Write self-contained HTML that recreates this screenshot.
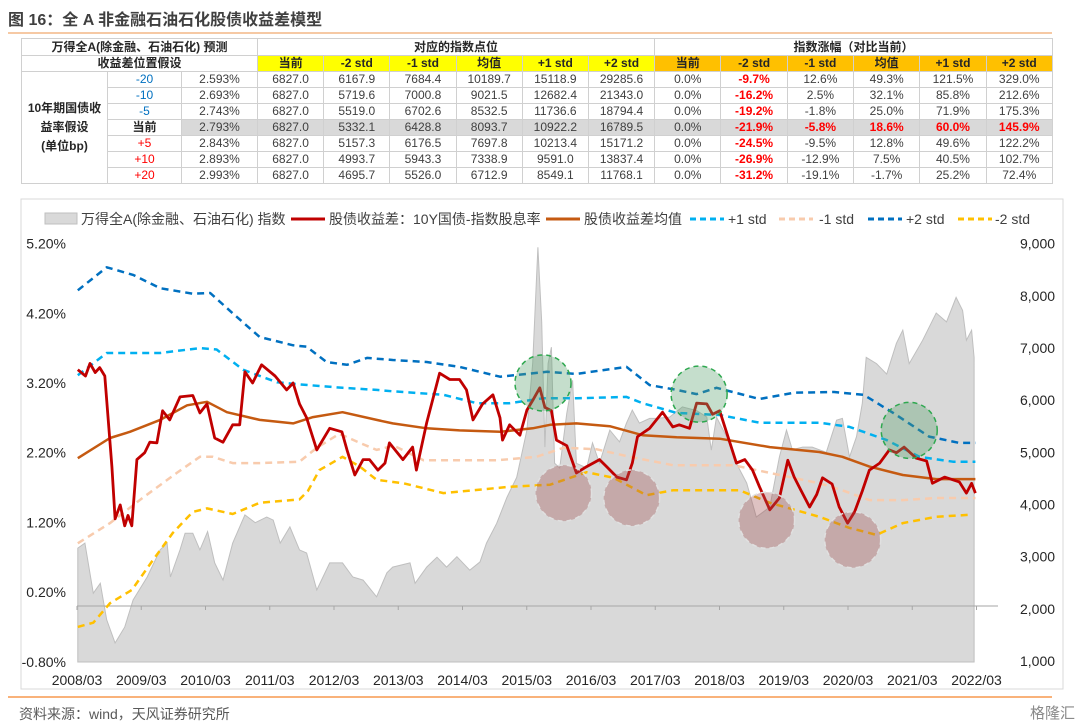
<!DOCTYPE html>
<html><head><meta charset="utf-8">
<style>
body{margin:0;background:#fff;width:1080px;height:727px;overflow:hidden;font-family:"Liberation Sans","Noto Sans CJK SC",sans-serif;position:relative}
#title{position:absolute;left:8px;top:6px;font-size:16px;font-weight:bold;color:#404040}
#tline{position:absolute;left:8px;top:32px;width:1044px;height:2px;background:#f6c9a4}
table{position:absolute;left:21px;top:38px;border-collapse:collapse;font-size:12px;color:#404040;table-layout:fixed}
td{border:1px solid #d0d0d0;text-align:center;height:15px;padding:0;line-height:15px;white-space:nowrap}
.h{font-weight:bold;color:#262626}
.y{background:#ffff00;font-weight:bold;color:#262626}
.o{background:#ffc000;font-weight:bold;color:#262626}
.g{background:#d9d9d9}
.r{color:#ff0000;font-weight:bold}
.b{color:#0070c0}
.rn{color:#ff0000}
#src{position:absolute;left:19px;top:704px;font-size:14px;color:#595959}
#bline{position:absolute;left:8px;top:696px;width:1044px;height:2px;background:#f9b27a}
#logo{position:absolute;left:1030px;top:702px;font-size:15px;color:#8a8a8a}
</style></head><body>
<div id="title">图 16：全 A 非金融石油石化股债收益差模型</div>
<div id="tline"></div>
<table>
<colgroup><col style="width:86px"><col style="width:74px"><col style="width:76px"><col span="6" style="width:66.2px"><col span="6" style="width:66.3px"></colgroup>
<tr style="height:17px"><td colspan="3" class="h">万得全A(除金融、石油石化) 预测</td><td colspan="6" class="h">对应的指数点位</td><td colspan="6" class="h">指数涨幅（对比当前）</td></tr>
<tr style="height:16px"><td colspan="3" class="h">收益差位置假设</td><td class="y">当前</td><td class="y">-2 std</td><td class="y">-1 std</td><td class="y">均值</td><td class="y">+1 std</td><td class="y">+2 std</td><td class="o">当前</td><td class="o">-2 std</td><td class="o">-1 std</td><td class="o">均值</td><td class="o">+1 std</td><td class="o">+2 std</td></tr>
<tr><td rowspan="7" class="h" style="line-height:19px;white-space:normal">10年期国债收<br>益率假设<br>(单位bp)</td><td class="b">-20</td><td>2.593%</td><td>6827.0</td><td>6167.9</td><td>7684.4</td><td>10189.7</td><td>15118.9</td><td>29285.6</td><td>0.0%</td><td class="r">-9.7%</td><td>12.6%</td><td>49.3%</td><td>121.5%</td><td>329.0%</td></tr>
<tr><td class="b">-10</td><td>2.693%</td><td>6827.0</td><td>5719.6</td><td>7000.8</td><td>9021.5</td><td>12682.4</td><td>21343.0</td><td>0.0%</td><td class="r">-16.2%</td><td>2.5%</td><td>32.1%</td><td>85.8%</td><td>212.6%</td></tr>
<tr><td class="b">-5</td><td>2.743%</td><td>6827.0</td><td>5519.0</td><td>6702.6</td><td>8532.5</td><td>11736.6</td><td>18794.4</td><td>0.0%</td><td class="r">-19.2%</td><td>-1.8%</td><td>25.0%</td><td>71.9%</td><td>175.3%</td></tr>
<tr><td class="h">当前</td><td class="g">2.793%</td><td class="g">6827.0</td><td class="g">5332.1</td><td class="g">6428.8</td><td class="g">8093.7</td><td class="g">10922.2</td><td class="g">16789.5</td><td class="g">0.0%</td><td class="g r">-21.9%</td><td class="g r">-5.8%</td><td class="g r">18.6%</td><td class="g r">60.0%</td><td class="g r">145.9%</td></tr>
<tr><td class="rn">+5</td><td>2.843%</td><td>6827.0</td><td>5157.3</td><td>6176.5</td><td>7697.8</td><td>10213.4</td><td>15171.2</td><td>0.0%</td><td class="r">-24.5%</td><td>-9.5%</td><td>12.8%</td><td>49.6%</td><td>122.2%</td></tr>
<tr><td class="rn">+10</td><td>2.893%</td><td>6827.0</td><td>4993.7</td><td>5943.3</td><td>7338.9</td><td>9591.0</td><td>13837.4</td><td>0.0%</td><td class="r">-26.9%</td><td>-12.9%</td><td>7.5%</td><td>40.5%</td><td>102.7%</td></tr>
<tr><td class="rn">+20</td><td>2.993%</td><td>6827.0</td><td>4695.7</td><td>5526.0</td><td>6712.9</td><td>8549.1</td><td>11768.1</td><td>0.0%</td><td class="r">-31.2%</td><td>-19.1%</td><td>-1.7%</td><td>25.2%</td><td>72.4%</td></tr>
</table>

<svg id="chart" width="1080" height="727" style="position:absolute;left:0;top:0">
<rect x="21" y="199" width="1042" height="490" fill="none" stroke="#d9d9d9"/>
<g id="plot"></g>
<g id="legend" font-size="14" fill="#404040"></g>
</svg>
<div id="bline"></div>
<div id="src">资料来源：wind，天风证券研究所</div>
<div id="logo">格隆汇</div>

<script>
const xTicks=["2008/03","2009/03","2010/03","2011/03","2012/03","2013/03","2014/03","2015/03","2016/03","2017/03","2018/03","2019/03","2020/03","2021/03","2022/03"];
const leftTicks=[-0.8,0.2,1.2,2.2,3.2,4.2,5.2];
const rightTicks=[1000,2000,3000,4000,5000,6000,7000,8000,9000];
const idxDates=[2008.18,2008.29,2008.42,2008.53,2008.63,2008.76,2008.91,2009.04,2009.26,2009.46,2009.57,2009.62,2009.77,2009.85,2009.97,2010.08,2010.2,2010.31,2010.44,2010.59,2010.78,2010.94,2011.12,2011.22,2011.33,2011.48,2011.63,2011.74,2011.9,2012.1,2012.3,2012.46,2012.62,2012.83,2012.99,2013.08,2013.35,2013.43,2013.61,2013.77,2013.92,2014.08,2014.28,2014.44,2014.54,2014.7,2014.86,2015.01,2015.17,2015.26,2015.34,2015.4,2015.45,2015.5,2015.55,2015.6,2015.68,2015.79,2015.88,2015.94,2016.1,2016.19,2016.3,2016.46,2016.61,2016.72,2016.81,2016.92,2017.08,2017.19,2017.39,2017.59,2017.81,2017.97,2018.04,2018.12,2018.28,2018.43,2018.59,2018.74,2018.95,2019.1,2019.21,2019.3,2019.46,2019.61,2019.83,2019.99,2020.08,2020.19,2020.3,2020.39,2020.45,2020.61,2020.77,2020.92,2021.02,2021.12,2021.33,2021.54,2021.7,2021.85,2021.95,2022.01,2022.09,2022.13];
const idxVals=[3165,3260,2300,2490,1790,1345,1650,2170,2610,3130,3260,2610,3130,3450,3450,3130,3480,2880,2550,3260,3800,3650,3760,3700,3260,3570,3130,3070,2360,2880,2880,2610,2550,2230,2690,2800,2880,2490,2800,2990,2800,3000,2740,2900,3260,3640,4140,4520,5425,6710,8930,7500,5100,6700,7015,4790,4700,5750,6380,4790,4700,5180,4790,5425,5200,5560,5810,5560,5650,5650,5675,5870,5800,5675,5040,5675,5290,4790,4410,3760,3950,4910,5425,5050,5100,5100,5000,5615,5650,4910,5300,5940,6820,6700,6500,7090,7340,6700,7150,7670,7500,7970,7720,7150,7340,6820];
const spreadDates=[2008.18,2008.3,2008.37,2008.45,2008.52,2008.6,2008.71,2008.76,2008.84,2008.91,2008.96,2009.02,2009.1,2009.22,2009.3,2009.41,2009.5,2009.61,2009.77,2009.97,2010.08,2010.19,2010.31,2010.44,2010.59,2010.7,2010.78,2010.9,2011.04,2011.25,2011.43,2011.53,2011.63,2011.74,2011.9,2012.1,2012.29,2012.37,2012.49,2012.62,2012.72,2012.85,2012.96,2013.03,2013.24,2013.39,2013.45,2013.61,2013.81,2013.97,2014.12,2014.23,2014.33,2014.48,2014.64,2014.75,2014.79,2014.9,2015.06,2015.17,2015.26,2015.37,2015.45,2015.55,2015.63,2015.79,2015.94,2016.1,2016.3,2016.41,2016.57,2016.72,2016.81,2016.89,2017.08,2017.28,2017.44,2017.54,2017.7,2017.81,2017.97,2018.06,2018.17,2018.28,2018.43,2018.56,2018.68,2018.79,2018.95,2019.1,2019.23,2019.33,2019.44,2019.57,2019.68,2019.77,2019.92,2020.03,2020.16,2020.27,2020.39,2020.5,2020.66,2020.81,2020.92,2021.04,2021.23,2021.39,2021.48,2021.67,2021.9,2022.01,2022.09,2022.15];
const spreadVals=[3.39,3.3,3.48,3.35,3.42,3.3,2.0,1.25,1.45,1.15,1.3,1.15,2.1,2.2,2.35,2.34,2.8,2.67,3.0,3.02,2.77,2.9,2.41,2.35,2.6,2.6,3.36,3.2,3.46,3.3,3.1,3.2,2.9,2.7,2.24,2.55,2.5,2.24,1.88,2.1,2.1,1.95,2.05,2.34,2.1,2.28,1.95,2.63,3.34,3.25,3.25,3.1,2.67,2.9,3.03,2.7,2.38,2.6,2.45,2.81,2.95,3.13,2.85,2.8,2.38,2.3,1.91,2.0,2.1,2.0,1.85,1.81,2.05,2.43,2.55,2.78,2.57,2.6,2.55,2.91,2.9,2.75,2.8,2.48,2.05,2.1,1.95,1.71,1.38,1.55,2.09,1.85,1.65,1.42,1.6,1.84,1.75,1.42,1.19,1.35,1.65,1.95,2.05,2.24,2.2,2.28,2.12,2.08,1.76,1.85,1.78,1.62,1.76,1.62];
const meanDates=[2008.18,2008.68,2008.99,2009.46,2009.88,2010.19,2010.5,2011.01,2011.53,2011.84,2012.3,2012.83,2013.08,2013.61,2014.12,2014.75,2015.26,2015.53,2015.94,2016.46,2016.97,2017.5,2018.17,2018.95,2019.72,2020.08,2020.5,2021.02,2021.54,2022.15];
const meanVals=[2.12,2.41,2.5,2.67,2.88,2.93,2.78,2.67,2.62,2.71,2.78,2.67,2.62,2.55,2.52,2.5,2.55,2.6,2.62,2.58,2.45,2.42,2.4,2.28,2.21,2.14,2.0,1.88,1.82,1.82];
const p1Dates=[2008.18,2008.63,2009.46,2010.08,2010.34,2010.75,2011.28,2011.63,2012.3,2012.83,2013.08,2013.87,2014.39,2014.9,2015.42,2015.94,2016.72,2016.97,2017.5,2018.17,2018.79,2019.72,2020.19,2020.77,2021.28,2021.8,2022.15];
const p1Vals=[3.31,3.63,3.63,3.7,3.68,3.39,3.21,3.18,3.13,3.1,3.08,3.03,2.91,2.91,2.98,2.98,3.0,2.91,2.77,2.74,2.63,2.63,2.57,2.38,2.14,2.07,2.07];
const p2Dates=[2008.18,2008.63,2009.04,2009.46,2009.97,2010.24,2010.59,2011.01,2011.53,2011.74,2012.05,2012.37,2012.68,2013.08,2013.61,2014.12,2014.75,2015.48,2015.94,2016.72,2017.08,2017.5,2017.81,2018.12,2018.79,2019.33,2019.95,2020.41,2020.87,2021.43,2021.9,2022.15];
const p2Vals=[4.53,4.86,4.75,4.56,4.48,4.49,4.2,3.86,3.74,3.72,3.5,3.46,3.56,3.53,3.5,3.43,3.29,3.36,3.33,3.43,3.17,3.1,3.04,3.13,2.97,3.06,3.07,3.03,2.77,2.43,2.34,2.34];
const m1Dates=[2008.18,2008.68,2009.2,2009.72,2010.08,2010.28,2010.59,2011.01,2011.63,2011.9,2012.25,2012.57,2012.83,2013.1,2013.56,2014.7,2015.32,2015.74,2016.25,2016.77,2017.28,2017.44,2018.38,2018.95,2019.72,2020.08,2020.5,2021.02,2021.54,2022.15];
const m1Vals=[0.9,1.19,1.56,1.91,2.14,2.14,2.05,2.05,2.07,2.27,2.47,2.34,2.24,2.3,2.09,2.09,2.14,2.27,2.25,2.14,2.05,2.02,2.02,1.91,1.76,1.66,1.52,1.52,1.55,1.55];
const m2Dates=[2008.18,2008.42,2008.68,2009.02,2009.35,2009.66,2009.97,2010.19,2010.59,2011.01,2011.63,2011.76,2011.94,2012.3,2012.57,2012.83,2013.25,2013.87,2014.9,2015.53,2016.1,2016.52,2017.03,2017.44,2017.96,2018.48,2018.95,2019.72,2020.19,2020.61,2021.02,2021.54,2022.09];
const m2Vals=[-0.3,-0.24,0.04,0.23,0.66,1.05,1.35,1.4,1.32,1.48,1.53,1.65,1.95,2.14,2.0,1.81,1.76,1.62,1.71,1.74,1.92,1.84,1.59,1.66,1.66,1.66,1.48,1.28,1.12,1.02,1.19,1.28,1.31];
const greenCircles=[[2015.42,3.2],[2017.85,3.04],[2021.12,2.52]];
const redCircles=[[2015.74,1.62],[2016.8,1.55],[2018.9,1.23],[2020.24,0.95]];

const X=t=>77+(t-2008.167)*64.25;
const YL=v=>606-v*69.7;
const YR=v=>661-(v-1000)*0.05217;
const NS='http://www.w3.org/2000/svg';
const plot=document.getElementById('plot');
function mk(tag,attrs,parent){const e=document.createElementNS(NS,tag);for(const k in attrs)e.setAttribute(k,attrs[k]);(parent||plot).appendChild(e);return e;}
function pathFrom(ds,vs,yf){return ds.map((d,i)=>(i?'L':'M')+X(d).toFixed(1)+','+yf(vs[i]).toFixed(1)).join(' ');}

// index area
let ad=pathFrom(idxDates,idxVals,YR);
ad+=' L'+X(idxDates[idxDates.length-1]).toFixed(1)+',662 L'+X(idxDates[0]).toFixed(1)+',662 Z';
const area=mk('path',{d:ad,fill:'#d9d9d9',stroke:'#bfbfbf','stroke-width':1});


// zero axis
const ax=mk('line',{x1:77,x2:998,y1:YL(0),y2:YL(0),stroke:'#a6a6a6','stroke-width':1});


xTicks.forEach((lab,i)=>{
  const x=X(2008.167+i);
  const tk=mk('line',{x1:x,x2:x,y1:YL(0),y2:YL(0)+4,stroke:'#a6a6a6'});
  
  
  const t=mk('text',{x:x,y:685,'text-anchor':'middle','font-size':14,fill:'#262626'});
  t.textContent=lab;
  
  
});
leftTicks.forEach(v=>{
  const t=mk('text',{x:66,y:YL(v)+5,'text-anchor':'end','font-size':14,fill:'#262626'});
  t.textContent=v.toFixed(2)+'%';
  
  
});
rightTicks.forEach(v=>{
  const t=mk('text',{x:1020,y:YR(v)+5,'font-size':14,fill:'#262626'});
  t.textContent=v.toLocaleString('en-US');
  
  
});
function line(ds,vs,color,w,dash,name){
  const p=mk('path',{d:pathFrom(ds,vs,YL),fill:'none',stroke:color,'stroke-width':w,'stroke-linejoin':'round'});
  if(dash)p.setAttribute('stroke-dasharray',dash);
  
  
}
line(m2Dates,m2Vals,'#ffc000',2.5,'7 5','minus2-std-line');
line(m1Dates,m1Vals,'#f8cbad',2.5,'7 5','minus1-std-line');
line(p2Dates,p2Vals,'#0070c0',2.5,'7 5','plus2-std-line');
line(p1Dates,p1Vals,'#00b0f0',2.5,'7 5','plus1-std-line');
line(meanDates,meanVals,'#c55a11',2.5,null,'mean-spread-line');
line(spreadDates,spreadVals,'#c00000',2.8,null,'spread-line');
greenCircles.forEach(c=>{
  const e=mk('circle',{cx:X(c[0]),cy:YL(c[1]),r:28,fill:'rgba(90,160,110,0.35)',stroke:'#2ea84f','stroke-width':1.5,'stroke-dasharray':'5 4'});
  
  
});
redCircles.forEach(c=>{
  const e=mk('circle',{cx:X(c[0]),cy:YL(c[1]),r:28,fill:'rgba(160,80,80,0.35)',stroke:'#e0e0e0','stroke-width':1.5,'stroke-dasharray':'5 4'});
  
  
});
// legend
const lg=document.getElementById('legend');
const legendItems=[
 {t:'万得全A(除金融、石油石化) 指数',type:'rect',c:'#d9d9d9',x:45,tx:81},
 {t:'股债收益差：10Y国债-指数股息率',type:'solid',c:'#c00000',x:291,tx:329},
 {t:'股债收益差均值',type:'solid',c:'#c55a11',x:546,tx:584},
 {t:'+1 std',type:'dash',c:'#00b0f0',x:690,tx:728},
 {t:'-1 std',type:'dash',c:'#f8cbad',x:779,tx:819},
 {t:'+2 std',type:'dash',c:'#0070c0',x:868,tx:906},
 {t:'-2 std',type:'dash',c:'#ffc000',x:958,tx:995}];
legendItems.forEach(it=>{
  const g=mk('g',{},lg);
  
  
  if(it.type==='rect')mk('rect',{x:it.x,y:213,width:32,height:11,fill:'#d9d9d9',stroke:'#bfbfbf'},g);
  else{const l=mk('line',{x1:it.x,x2:it.x+34,y1:219,y2:219,stroke:it.c,'stroke-width':3},g);if(it.type==='dash')l.setAttribute('stroke-dasharray','6 4');}
  const t=mk('text',{x:it.tx,y:224,'font-size':14,fill:'#404040'},g);
  t.textContent=it.t;
});
</script>
</body></html>
